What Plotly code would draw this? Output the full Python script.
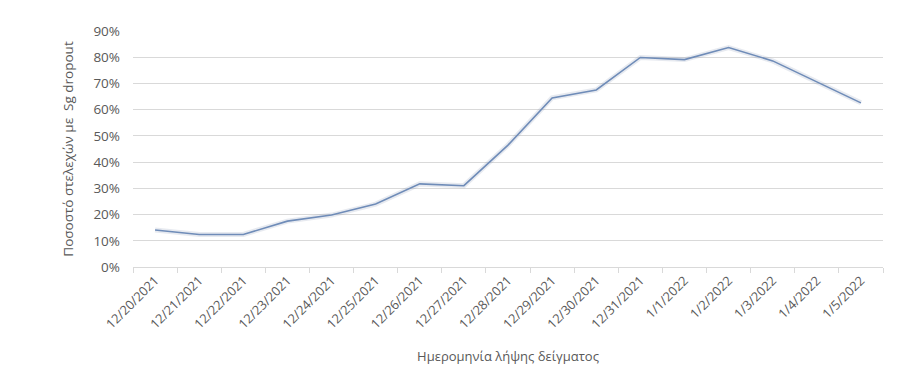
import plotly.graph_objects as go

dates = ["12/20/2021", "12/21/2021", "12/22/2021", "12/23/2021", "12/24/2021",
         "12/25/2021", "12/26/2021", "12/27/2021", "12/28/2021", "12/29/2021",
         "12/30/2021", "12/31/2021", "1/1/2022", "1/2/2022", "1/3/2022",
         "1/4/2022", "1/5/2022"]
dropout_pct = [0.141, 0.124, 0.124, 0.175, 0.198, 0.240, 0.317, 0.310, 0.465,
               0.645, 0.675, 0.799, 0.791, 0.837, 0.786, 0.707, 0.626]

y_title = "Ποσοστό στελεχών με  Sg dropout"
x_title = "Ημερομηνία λήψης δείγματος"

FONT = "Open Sans, Noto Sans, sans-serif"
GREY = "#595959"

fig = go.Figure()
# soft shadow under the line
fig.add_trace(go.Scatter(x=dates, y=dropout_pct, mode="lines",
                         line=dict(color="rgba(120,140,170,0.18)", width=5),
                         hoverinfo="skip", showlegend=False))
fig.add_trace(go.Scatter(x=dates, y=dropout_pct, mode="lines",
                         line=dict(color="#6f8cb8", width=1.6),
                         showlegend=False))

fig.update_layout(
    width=900, height=389,
    margin=dict(l=133, r=17, t=31, b=122),
    paper_bgcolor="white", plot_bgcolor="white",
    font=dict(family=FONT, color=GREY, size=12),
)
fig.update_xaxes(
    type="category", range=[-0.5, len(dates) - 0.5],
    tickangle=-45, tickfont=dict(size=12.8, color=GREY),
    tickson="boundaries", ticks="outside", ticklen=5, tickcolor="#d9d9d9",
    showgrid=False, showline=True, linecolor="#d9d9d9", linewidth=1,
    title=dict(text=x_title, font=dict(size=13, color=GREY), standoff=20),
)
fig.update_yaxes(
    range=[0, 0.9], dtick=0.1, tickformat=".0%",
    tickfont=dict(size=13.5, color=GREY),
    showgrid=True, gridcolor="#d9d9d9", gridwidth=1,
    zeroline=False, showline=False, ticklabelstandoff=12,
    title=dict(text=y_title, font=dict(size=13.5, color=GREY), standoff=16),
)

fig.write_html("out.html")
